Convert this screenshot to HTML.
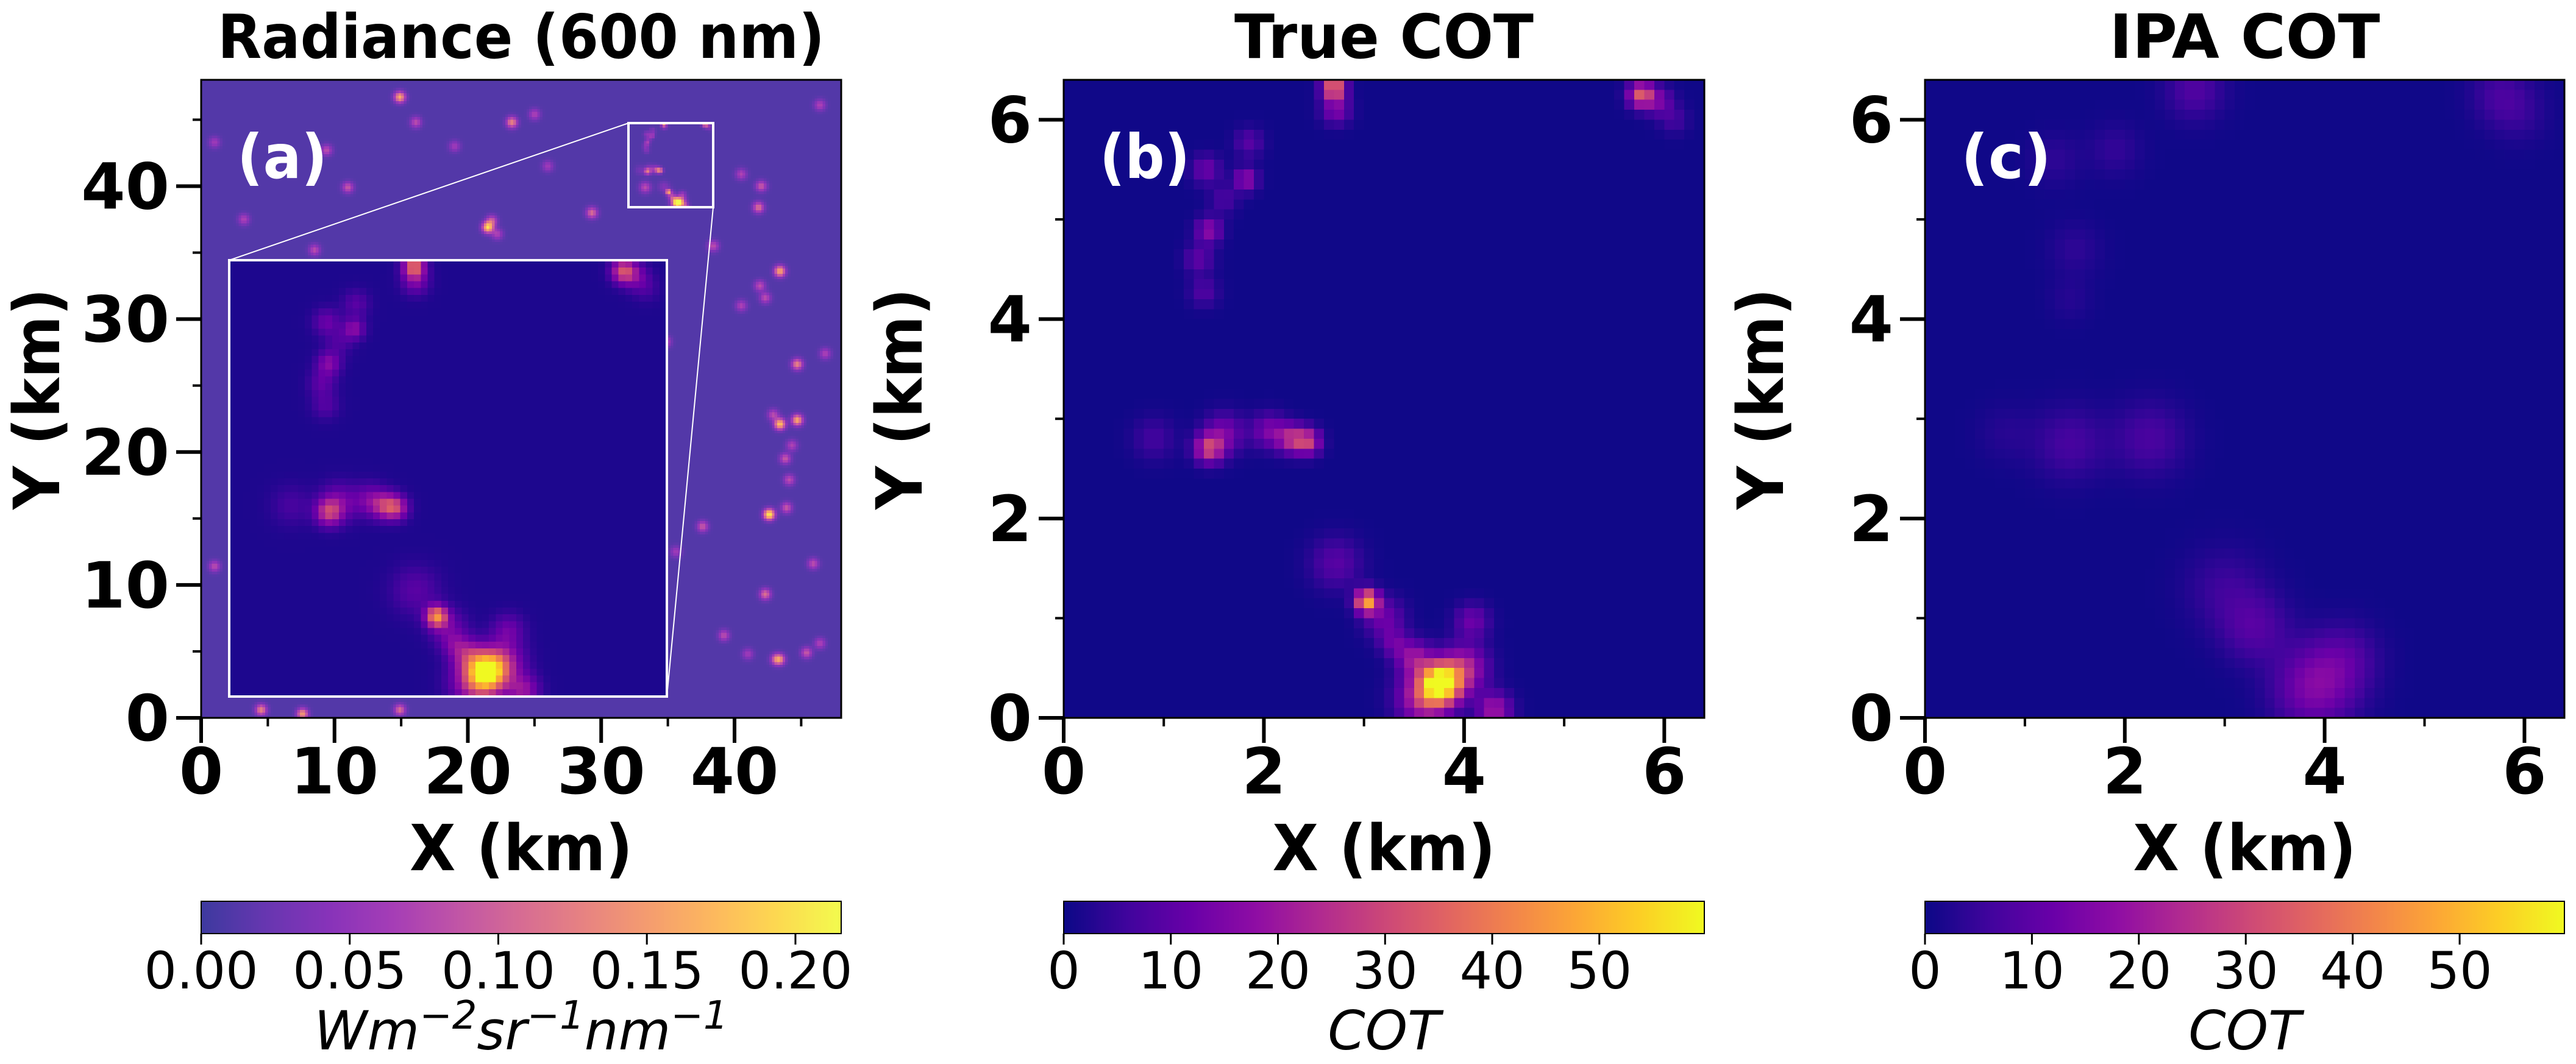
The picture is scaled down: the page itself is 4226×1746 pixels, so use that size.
<!DOCTYPE html>
<html><head><meta charset="utf-8">
<style>
html,body{margin:0;padding:0;background:#fff;}
#root{position:relative;width:4226px;height:1746px;overflow:hidden;background:#fff;font-family:"DejaVu Sans","Liberation Sans",sans-serif;}
canvas{position:absolute;image-rendering:pixelated;}
svg{position:absolute;left:0;top:0;}
</style></head>
<body>
<div id="root">
<canvas id="cvA"></canvas>
<canvas id="cvInset"></canvas>
<canvas id="cvB"></canvas>
<canvas id="cvC"></canvas>
<canvas id="cbA"></canvas>
<canvas id="cbB"></canvas>
<canvas id="cbC"></canvas>
<svg id="ov" width="4226" height="1746"></svg>
</div>
<script>
// ---------- data ----------
const cotX   = [3.77,3.6,4.0,4.3,3.03,3.2,2.72,4.08,1.45,1.6,2.27,2.44,2.05,0.9,2.7,2.72,5.77,5.95,6.1,1.82,1.42,1.85,1.45,1.35,1.4,1.6,3.5,3.3];
const cotY   = [0.35,0.2,0.5,0.08,1.17,1.0,1.55,0.97,2.7,2.85,2.8,2.77,2.88,2.8,6.32,6.1,6.25,6.18,6.0,5.4,5.5,5.77,4.89,4.6,4.27,5.2,0.6,0.75];
const cotPk  = [58,25,22,20,45,12,9,12,27,14,22,26,14,6,40,15,33,12,6,18,12,9,17,10,8,7,18,10];
const cotSd  = [0.14,0.18,0.16,0.12,0.08,0.14,0.18,0.12,0.1,0.14,0.1,0.09,0.12,0.15,0.08,0.1,0.09,0.1,0.1,0.08,0.1,0.1,0.09,0.1,0.1,0.1,0.12,0.1];
const ipaX   = [3.9,4.2,3.3,3.0,1.45,2.25,0.8,2.7,5.75,5.95,1.3,1.9,1.5,1.45];
const ipaY   = [0.3,0.6,0.9,1.3,2.75,2.8,2.85,6.3,6.25,6.05,5.6,5.7,4.7,4.2];
const ipaPk  = [15,7,8,5,6.5,7,2.5,8,6,3.5,3.5,4,3.5,2.5];
const ipaSd  = [0.28,0.24,0.24,0.28,0.25,0.25,0.2,0.2,0.2,0.2,0.18,0.18,0.18,0.15];
const spX = [14.9,21.5,23.3,29.3,33.3,43.4,44.7,43.4,44.7,42.6,41.8,42.3,43.4,39.2,43.1,45.4,46.4,9.4,11.0,16.1,3.2,8.5,4.5,7.6,14.9,1.0,37.6,38.4,34.8,46.8,1.0,46.4,43.8,40.5,41.9,42.3,44.1,45.9,40.5,42.0,44.3,25.0,35.6,30.5,21.8,22.2,42.9,43.9,41.0,26.0,19.0];
const spY = [46.7,36.9,44.8,38.0,39.9,33.6,26.6,22.1,22.4,15.3,38.4,9.3,4.4,6.2,4.4,4.9,5.6,42.7,39.9,44.8,37.5,35.2,0.6,0.3,0.6,11.4,14.4,35.5,28.3,27.4,43.3,46.1,19.5,40.9,32.5,31.6,17.9,11.6,31.0,40.0,20.5,45.4,12.5,7.5,37.4,36.4,22.8,15.8,4.8,41.5,43.0];
const spPk = [0.15,0.18,0.12,0.1,0.07,0.15,0.12,0.17,0.15,0.2,0.1,0.1,0.1,0.07,0.08,0.08,0.06,0.07,0.08,0.07,0.06,0.07,0.12,0.14,0.1,0.07,0.08,0.07,0.08,0.06,0.05,0.06,0.08,0.06,0.07,0.07,0.07,0.07,0.06,0.08,0.06,0.06,0.05,0.05,0.08,0.06,0.07,0.08,0.05,0.05,0.05];
const cbATicks = [0,0.05,0.10,0.15,0.20];
const cbATickLabels = ["0.00","0.05","0.10","0.15","0.20"];
const cbBTicks = [0,10,20,30,40,50];
const xyTicksA = [0,10,20,30,40];
const xyTicksB = [0,2,4,6];
const radMax = 0.2154, radBg = 0.011, cotMax = 59.8, cotBg = 0.3;

const TOP=131, BOT=1178, CB_T=1479, CB_B=1532;
const panels = {
  a:{l:330,r:1380,max:48,ticks:xyTicksA,minor:5,title:"Radiance (600 nm)",tw:996,lab:"(a)"},
  b:{l:1745,r:2796,max:6.4,ticks:xyTicksB,minor:1,title:"True COT",tw:491,lab:"(b)"},
  c:{l:3158,r:4207,max:6.4,ticks:xyTicksB,minor:1,title:"IPA COT",tw:444,lab:"(c)"}
};
function sx(p,v){return p.l+v/p.max*(p.r-p.l);}
function sy(p,v){return BOT-v/p.max*(BOT-TOP);}

const stops=["#0d0887","#41049d","#6a00a8","#8f0da4","#b12a90","#cc4778","#e16462","#f2844b","#fca636","#fcce25","#f0f921"].map(h=>[parseInt(h.slice(1,3),16),parseInt(h.slice(3,5),16),parseInt(h.slice(5,7),16)]);
function plasma(t,alpha){
  t=Math.max(0,Math.min(1,t));const f=t*10,i=Math.min(9,Math.floor(f)),u=f-i;
  const c=[0,1,2].map(k=>stops[i][k]+(stops[i+1][k]-stops[i][k])*u);
  return c.map(v=>Math.round(v*alpha+255*(1-alpha)));
}
function field(X,Y,P,S,x,y,bg){
  let v=bg;for(let k=0;k<X.length;k++){const dx=x-X[k],dy=y-Y[k];v+=P[k]*Math.exp(-(dx*dx+dy*dy)/(2*S[k]*S[k]));}return v;
}
function paint(id,n,left,top,w,h,fn){
  const cv=document.getElementById(id);cv.width=n;cv.height=n;
  cv.style.left=left+"px";cv.style.top=top+"px";cv.style.width=w+"px";cv.style.height=h+"px";
  const ctx=cv.getContext("2d");const im=ctx.createImageData(n,n);
  for(let j=0;j<n;j++)for(let i=0;i<n;i++){const c=fn((i+0.5)/n,1-(j+0.5)/n);const o=(j*n+i)*4;im.data[o]=c[0];im.data[o+1]=c[1];im.data[o+2]=c[2];im.data[o+3]=255;}
  ctx.putImageData(im,0,0);
}
paint("cvA",240,330,TOP,1050,BOT-TOP,(u,v)=>{
  const x=u*48,y=v*48;
  let r=field(spX,spY,spPk,spX.map(()=>0.28),x,y,radBg);
  if(x>=32&&x<=38.4&&y>=38.4&&y<=44.8){r+=field(cotX,cotY,cotPk,cotSd.map(s=>s*1.6),x-32,y-38.4,0)*0.0032;}
  return plasma(r/radMax,0.8);
});
paint("cvInset",64,377,428,716,714,(u,v)=>{
  const c=field(cotX,cotY,cotPk,cotSd.map(s=>s*1.35),u*6.4,v*6.4,0.8);
  return plasma(c/cotMax*0.85+0.02,1);
});
paint("cvB",64,1745,TOP,1051,BOT-TOP,(u,v)=>plasma(field(cotX,cotY,cotPk,cotSd,u*6.4,v*6.4,cotBg)/cotMax,1));
paint("cvC",64,3158,TOP,1049,BOT-TOP,(u,v)=>plasma(field(ipaX,ipaY,ipaPk,ipaSd,u*6.4,v*6.4,cotBg)/cotMax,1));
function cbar(id,p,alpha){
  const cv=document.getElementById(id);cv.width=256;cv.height=1;
  cv.style.left=p.l+"px";cv.style.top=CB_T+"px";cv.style.width=(p.r-p.l)+"px";cv.style.height=(CB_B-CB_T)+"px";
  const ctx=cv.getContext("2d");const im=ctx.createImageData(256,1);
  for(let i=0;i<256;i++){const c=plasma(i/255,alpha);im.data[i*4]=c[0];im.data[i*4+1]=c[1];im.data[i*4+2]=c[2];im.data[i*4+3]=255;}
  ctx.putImageData(im,0,0);
}
cbar("cbA",panels.a,0.8);cbar("cbB",panels.b,1);cbar("cbC",panels.c,1);

const NS="http://www.w3.org/2000/svg",svg=document.getElementById("ov");
function el(tag,attrs,txt){const e=document.createElementNS(NS,tag);for(const k in attrs)e.setAttribute(k,attrs[k]);if(txt!==undefined)e.textContent=txt;svg.appendChild(e);return e;}
for(const key of ["a","b","c"]){
  const p=panels[key];
  let e=el("rect",{x:p.l,y:TOP,width:p.r-p.l,height:BOT-TOP,fill:"none",stroke:"#000","stroke-width":3});
  
  
  e=el("text",{x:(p.l+p.r)/2,y:95,"text-anchor":"middle","font-size":100,"font-weight":"bold",textLength:p.tw,lengthAdjust:"spacingAndGlyphs"},p.title);
  
  
  e=el("text",{x:p.l+59,y:292,"font-size":100,"font-weight":"bold",fill:"#fff",textLength:148,lengthAdjust:"spacingAndGlyphs"},p.lab);
  
  
  for(const t of p.ticks){
    const X=sx(p,t),Y=sy(p,t);
    e=el("line",{x1:X,y1:BOT,x2:X,y2:BOT+41,stroke:"#000","stroke-width":6});
    
    
    e=el("line",{x1:p.l-41,y1:Y,x2:p.l,y2:Y,stroke:"#000","stroke-width":6});
    
    
    e=el("text",{x:X,y:1302,"text-anchor":"middle","font-size":104,"font-weight":"bold"},String(t));
    
    
    e=el("text",{x:p.l-52,y:Y+37,"text-anchor":"end","font-size":104,"font-weight":"bold"},String(t));
    
    
  }
  for(let m=p.minor;m<p.max;m+=2*p.minor){
    e=el("line",{x1:sx(p,m),y1:BOT,x2:sx(p,m),y2:BOT+14,stroke:"#000","stroke-width":4});
    
    
    e=el("line",{x1:p.l-14,y1:sy(p,m),x2:p.l,y2:sy(p,m),stroke:"#000","stroke-width":4});
    
    
  }
  e=el("text",{x:(p.l+p.r)/2,y:1428,"text-anchor":"middle","font-size":104,"font-weight":"bold",textLength:366,lengthAdjust:"spacingAndGlyphs"},"X (km)");
  
  
  const yc=(TOP+BOT)/2,xc=p.l-270+37;
  e=el("text",{x:xc,y:yc,"text-anchor":"middle","font-size":104,"font-weight":"bold",transform:`rotate(-90 ${xc} ${yc})`,textLength:363,lengthAdjust:"spacingAndGlyphs"},"Y (km)");
  
  
  e=el("rect",{x:p.l,y:CB_T,width:p.r-p.l,height:CB_B-CB_T,fill:"none",stroke:"#000","stroke-width":2});
  
  
  const ct=key==="a"?cbATicks:cbBTicks,cmax=key==="a"?radMax:cotMax;
  ct.forEach((t,i)=>{
    const X=p.l+t/cmax*(p.r-p.l);
    let q=el("line",{x1:X,y1:CB_B,x2:X,y2:CB_B+18,stroke:"#000","stroke-width":3});
    
    
    q=el("text",{x:X,y:1622,"text-anchor":"middle","font-size":84},key==="a"?cbATickLabels[i]:String(t));
    
    
  });
}
let lab=el("text",{x:855,y:1722,"text-anchor":"middle","font-size":88,"font-style":"italic"});


lab.innerHTML='Wm<tspan dy="-34" font-size="64">−2</tspan><tspan dy="34">sr</tspan><tspan dy="-34" font-size="64">−1</tspan><tspan dy="34">nm</tspan><tspan dy="-34" font-size="64">−1</tspan>';
for(const key of ["b","c"]){
  const p=panels[key];
  const t=el("text",{x:(p.l+p.r)/2,y:1722,"text-anchor":"middle","font-size":88,"font-style":"italic"},"COT");
  
  
}
let z=el("rect",{x:1031,y:202,width:139,height:138,fill:"none",stroke:"#fff","stroke-width":4});


z=el("rect",{x:376,y:427,width:718,height:716,fill:"none",stroke:"#fff","stroke-width":4});


z=el("line",{x1:1031,y1:202,x2:376,y2:427,stroke:"#fff","stroke-width":2});


z=el("line",{x1:1170,y1:340,x2:1094,y2:1143,stroke:"#fff","stroke-width":2});


</script>
</body></html>
